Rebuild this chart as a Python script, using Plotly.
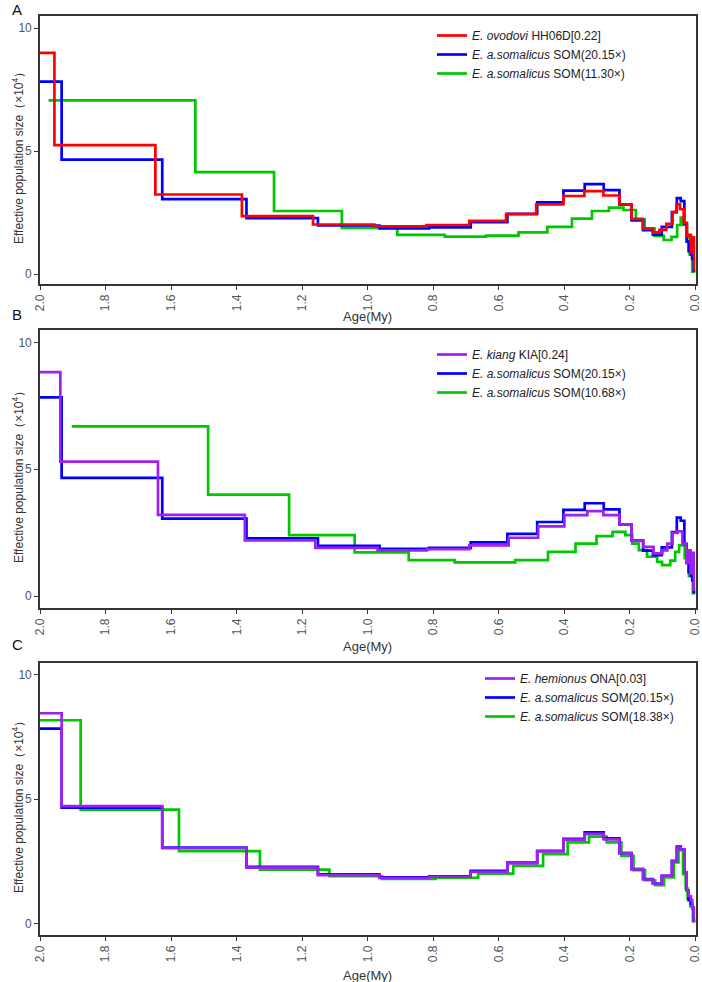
import plotly.graph_objects as go

# ---------------- data (Age in My, Ne in 10^4) ----------------
# each series: breakpoints (ascending age) and the Ne value holding from that age to the next
som2015_t = [0.000, 0.005, 0.010, 0.014, 0.021, 0.027, 0.034, 0.045, 0.057, 0.072, 0.103, 0.130, 0.160,
             0.195, 0.232, 0.280, 0.338, 0.403, 0.483, 0.574, 0.686, 0.813, 0.964, 1.152, 1.370, 1.627, 1.934]
som2015_v = [0.15, 0.62, 0.80, 0.94, 1.32, 2.05, 2.97, 3.09, 2.52, 1.92, 1.61, 1.79, 2.19,
             2.83, 3.42, 3.66, 3.40, 2.92, 2.45, 2.12, 1.90, 1.86, 1.98, 2.28, 3.05, 4.66, 7.83]
som2015_end = 2.0

# Panel A
ovo_t = [0.000, 0.004, 0.009, 0.014, 0.020, 0.026, 0.036, 0.047, 0.058, 0.070, 0.089, 0.110, 0.130,
         0.161, 0.195, 0.232, 0.281, 0.339, 0.403, 0.486, 0.578, 0.690, 0.821, 0.980, 1.167, 1.384, 1.648, 1.956]
ovo_v = [0.20, 1.50, 0.90, 1.60, 1.55, 2.09, 2.64, 2.84, 2.52, 2.05, 1.80, 1.70, 1.85,
         2.25, 2.84, 3.20, 3.38, 3.18, 2.84, 2.44, 2.17, 2.00, 1.94, 2.02, 2.36, 3.24, 5.25, 9.00]
ovo_end = 2.0

som1130_t = [0.000, 0.010, 0.018, 0.026, 0.038, 0.045, 0.056, 0.073, 0.097, 0.125, 0.155, 0.182, 0.220,
             0.264, 0.316, 0.377, 0.452, 0.540, 0.639, 0.765, 0.910, 1.079, 1.286, 1.526]
som1130_v = [0.10, 0.80, 1.50, 2.00, 2.30, 2.00, 1.52, 1.39, 1.56, 1.86, 2.23, 2.61, 2.71,
             2.57, 2.26, 1.92, 1.70, 1.57, 1.53, 1.60, 1.88, 2.57, 4.15, 7.07]
som1130_end = 1.974

# Panel B
kia_t = [0.000, 0.005, 0.010, 0.015, 0.020, 0.028, 0.040, 0.055, 0.070, 0.086, 0.101, 0.128, 0.159,
         0.195, 0.232, 0.281, 0.330, 0.400, 0.480, 0.570, 0.690, 0.820, 0.970, 1.160, 1.375, 1.640, 1.938]
kia_v = [0.25, 1.70, 0.90, 1.80, 1.30, 2.07, 2.55, 2.49, 2.07, 1.80, 1.68, 1.94, 2.18,
         2.83, 3.19, 3.35, 3.19, 2.75, 2.30, 2.00, 1.85, 1.80, 1.90, 2.20, 3.20, 5.30, 8.83]
kia_end = 2.0

som1068_t = [0.000, 0.008, 0.020, 0.033, 0.050, 0.062, 0.077, 0.102, 0.117, 0.148, 0.173, 0.193, 0.214,
             0.253, 0.302, 0.366, 0.450, 0.550, 0.735, 0.875, 1.040, 1.240, 1.487]
som1068_v = [0.12, 0.80, 1.50, 2.00, 1.74, 1.40, 1.22, 1.35, 1.55, 1.81, 2.07, 2.40, 2.53,
             2.36, 2.07, 1.74, 1.42, 1.33, 1.42, 1.72, 2.40, 4.00, 6.69]
som1068_end = 1.903

# Panel C
ona_t = [0.000, 0.005, 0.010, 0.014, 0.021, 0.027, 0.034, 0.045, 0.057, 0.072, 0.103, 0.130, 0.160,
         0.195, 0.232, 0.280, 0.338, 0.403, 0.483, 0.574, 0.686, 0.813, 0.964, 1.152, 1.370, 1.627, 1.934]
ona_v = [0.10, 0.64, 0.94, 1.10, 1.32, 2.05, 2.97, 3.05, 2.50, 1.92, 1.61, 1.77, 2.19,
         2.83, 3.38, 3.60, 3.37, 2.90, 2.42, 2.08, 1.88, 1.83, 1.95, 2.25, 3.03, 4.72, 8.45]
ona_end = 2.0

som1838_t = [0.000, 0.008, 0.016, 0.024, 0.030, 0.038, 0.052, 0.066, 0.096, 0.123, 0.154, 0.189, 0.226,
             0.271, 0.325, 0.390, 0.465, 0.556, 0.663, 0.793, 0.957, 1.117, 1.329, 1.576, 1.876]
som1838_v = [0.10, 0.70, 1.00, 1.40, 1.99, 2.95, 2.46, 1.85, 1.54, 1.74, 2.15, 2.72, 3.26,
             3.49, 3.26, 2.79, 2.32, 2.01, 1.84, 1.79, 1.90, 2.17, 2.91, 4.58, 8.17]
som1838_end = 2.0

x_ticks = [0.0, 0.2, 0.4, 0.6, 0.8, 1.0, 1.2, 1.4, 1.6, 1.8, 2.0]
x_ticktext = ["0.0", "0.2", "0.4", "0.6", "0.8", "1.0", "1.2", "1.4", "1.6", "1.8", "2.0"]
y_ticks = [0, 5, 10]
panel_letters = ["A", "B", "C"]
x_title = "Age(My)"
y_title = "Effective population size（×10<sup>4</sup>）"

RED = "#FF0000"
BLUE = "#0000FF"
GREEN = "#00C800"
PURPLE = "#A020F0"
FONT = "Liberation Sans, Arial, sans-serif"
AX = "#3a3333"

panels = [
    # (axis suffix, legend id, [(t, v, end, name, color)] in draw order)
    ("", "legend", [
        (som1130_t, som1130_v, som1130_end, "<i>E. a.somalicus</i> SOM(11.30×)", GREEN),
        (som2015_t, som2015_v, som2015_end, "<i>E. a.somalicus</i> SOM(20.15×)", BLUE),
        (ovo_t, ovo_v, ovo_end, "<i>E. ovodovi</i> HH06D[0.22]", RED),
    ]),
    ("2", "legend2", [
        (som1068_t, som1068_v, som1068_end, "<i>E. a.somalicus</i> SOM(10.68×)", GREEN),
        (som2015_t, som2015_v, som2015_end, "<i>E. a.somalicus</i> SOM(20.15×)", BLUE),
        (kia_t, kia_v, kia_end, "<i>E. kiang</i> KIA[0.24]", PURPLE),
    ]),
    ("3", "legend3", [
        (som1838_t, som1838_v, som1838_end, "<i>E. a.somalicus</i> SOM(18.38×)", GREEN),
        (som2015_t, som2015_v, som2015_end, "<i>E. a.somalicus</i> SOM(20.15×)", BLUE),
        (ona_t, ona_v, ona_end, "<i>E. hemionus</i> ONA[0.03]", PURPLE),
    ]),
]

fig = go.Figure()
for suf, leg, series in panels:
    for k, (t, v, end, name, color) in enumerate(series):
        fig.add_trace(go.Scatter(
            x=list(t) + [end], y=list(v) + [v[-1]],
            mode="lines", line=dict(color=color, width=2.7, shape="hv"),
            name=name, xaxis="x" + suf, yaxis="y" + suf, legend=leg,
            legendgroup=leg + str(k),
        ))

W, H = 702, 982
xdom = [40 / W, 695.5 / W]
ydoms = [(16, 284), (330, 608), (663, 935)]
yranges = [[-0.4, 10.5], [-0.47, 10.49], [-0.46, 10.47]]
legend_pos = [(432, 21), (432, 340), (480, 664)]
x_title_y = [317, 646, 975]
letter_top = [0, 305, 635]

layout = dict(
    width=W, height=H, autosize=False,
    margin=dict(l=0, r=0, t=0, b=0),
    paper_bgcolor="white", plot_bgcolor="white",
    font=dict(family=FONT, color="#333333"),
    annotations=[],
)
for i, (suf, leg, _) in enumerate(panels):
    top, bot = ydoms[i]
    layout["xaxis" + suf] = dict(
        domain=xdom, anchor="y" + suf, range=[2.0, -0.00001],
        tickvals=x_ticks, ticktext=x_ticktext, tickangle=-90,
        ticks="outside", ticklen=4, tickcolor=AX, tickwidth=1,
        tickfont=dict(size=12, color="#555555", family=FONT),
        ticklabeloverflow="allow",
        showline=True, linecolor=AX, linewidth=1.6, mirror=True,
        showgrid=False, zeroline=False, automargin=False,
    )
    layout["yaxis" + suf] = dict(
        domain=[1 - bot / H, 1 - top / H], anchor="x" + suf, range=yranges[i],
        tickvals=y_ticks, ticks="outside", ticklen=4, tickcolor=AX, tickwidth=1,
        tickfont=dict(size=12, color="#555555", family=FONT),
        showline=True, linecolor=AX, linewidth=1.6, mirror=True,
        showgrid=False, zeroline=False, automargin=False,
    )
    lx, ly = legend_pos[i]
    layout[leg] = dict(
        x=lx / W, y=1 - ly / H, xanchor="left", yanchor="top",
        traceorder="reversed", tracegroupgap=2,
        bgcolor="rgba(0,0,0,0)", borderwidth=0,
        font=dict(size=12, color="#222222", family=FONT),
    )
    # panel letter
    layout["annotations"].append(dict(
        text=panel_letters[i], x=11 / W, y=1 - letter_top[i] / H,
        xref="paper", yref="paper", xanchor="left", yanchor="top",
        showarrow=False, borderpad=0, font=dict(size=15, color="#111111", family=FONT),
    ))
    # x-axis title
    layout["annotations"].append(dict(
        text=x_title, x=(xdom[0] + xdom[1]) / 2, y=1 - x_title_y[i] / H,
        xref="paper", yref="paper", xanchor="center", yanchor="middle",
        showarrow=False, font=dict(size=13, color="#333333", family=FONT),
    ))
    # y-axis title
    layout["annotations"].append(dict(
        text=y_title, x=18 / W, y=1 - ((top + bot) / 2 + 5) / H, textangle=-90,
        xref="paper", yref="paper", xanchor="center", yanchor="middle",
        showarrow=False, font=dict(size=12, color="#333333", family=FONT),
    ))

fig.update_layout(**layout)
# remove the browser's default page margin so the figure sits at the window origin
fig.write_html("out.html", config={"displayModeBar": False},
               post_script="document.body.style.margin='0';")
